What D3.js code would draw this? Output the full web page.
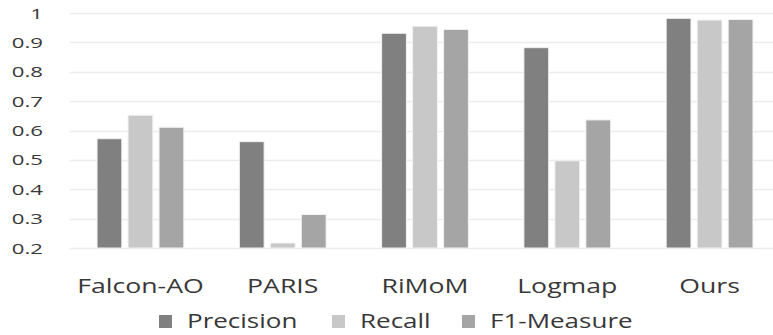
<!DOCTYPE html>
<html>
<head>
<meta charset="utf-8">
<script src="https://cdn.jsdelivr.net/npm/d3@7"></script>
<style>
  body { margin: 0; background: #fff; }
  text { font-family: "Open Sans", sans-serif; fill: #383838; }
</style>
</head>
<body>
<div class="graph"></div>
<script>
const categories = ["Falcon-AO", "PARIS", "RiMoM", "Logmap", "Ours"];
const seriesNames = ["Precision", "Recall", "F1-Measure"];
const precision = [0.572, 0.562, 0.931, 0.882, 0.982];
const recall = [0.652, 0.217, 0.955, 0.497, 0.976];
const f1 = [0.611, 0.314, 0.944, 0.636, 0.978];
const yTicks = [0.2, 0.3, 0.4, 0.5, 0.6, 0.7, 0.8, 0.9, 1];
const colors = ["#808080", "#c8c8c8", "#a5a5a5"];

let width = 773;
let height = 335;

let rows = categories.map(function(c, i){
	return {name: c, values: [precision[i], recall[i], f1[i]]};
});

let svg = d3.select(".graph")
	.append("svg")
	.attr("width", width)
	.attr("height", height);

let y = d3.scaleLinear().domain([0.2, 1]).range([248, 13]);
let x0 = d3.scaleBand().domain(categories).range([70, 780]).paddingInner(0.39).paddingOuter(0.19);
let x1 = d3.scaleBand().domain(seriesNames).range([0, x0.bandwidth()]).paddingInner(0.2).paddingOuter(0);

// gridlines
svg.append("g")
	.selectAll("line")
	.data(yTicks)
	.enter().append("line")
	.attr("x1", 70)
	.attr("x2", width)
	.attr("y1", d => Math.round(y(d)) + 0.5)
	.attr("y2", d => Math.round(y(d)) + 0.5)
	.attr("stroke", "#ececec")
	.attr("stroke-width", 1.5);

// y tick labels (stretched like the source picture)
svg.append("g")
	.selectAll("text")
	.data(yTicks)
	.enter().append("text")
	.attr("text-anchor", "end")
	.attr("font-size", 15)
	.attr("transform", d => "translate(43," + (y(d) + 5.5) + ") scale(1.48,1)")
	.text(d => d === 1 ? "1" : d.toFixed(1));

// bars
let groups = svg.append("g")
	.selectAll("g")
	.data(rows)
	.enter().append("g")
	.attr("transform", d => "translate(" + x0(d.name) + ",0)");

groups.selectAll("rect")
	.data(d => d.values.map((v, i) => ({key: seriesNames[i], value: v, i: i})))
	.enter().append("rect")
	.attr("x", d => x1(d.key))
	.attr("width", x1.bandwidth())
	.attr("y", d => y(d.value))
	.attr("height", d => y(0.2) - y(d.value))
	.attr("fill", d => colors[d.i])
	.attr("stroke", "#f2f2f2")
	.attr("stroke-width", 1);

// category labels
svg.append("g")
	.selectAll("text")
	.data(categories)
	.enter().append("text")
	.attr("text-anchor", "middle")
	.attr("font-size", 20.5)
	.attr("transform", d => "translate(" + (x0(d) + x0.bandwidth() / 2) + ",293) scale(1.3,1)")
	.text(d => d);

// legend
let legendX = [159, 332, 462];
let legend = svg.append("g")
	.selectAll("g")
	.data(seriesNames)
	.enter().append("g")
	.attr("transform", (d, i) => "translate(" + legendX[i] + ",0)");

legend.append("rect")
	.attr("x", 0)
	.attr("y", 315)
	.attr("width", 13)
	.attr("height", 13)
	.attr("fill", (d, i) => colors[i]);

legend.append("text")
	.attr("font-size", 20)
	.attr("transform", "translate(28,328) scale(1.3,1)")
	.text(d => d);
</script>
</body>
</html>
